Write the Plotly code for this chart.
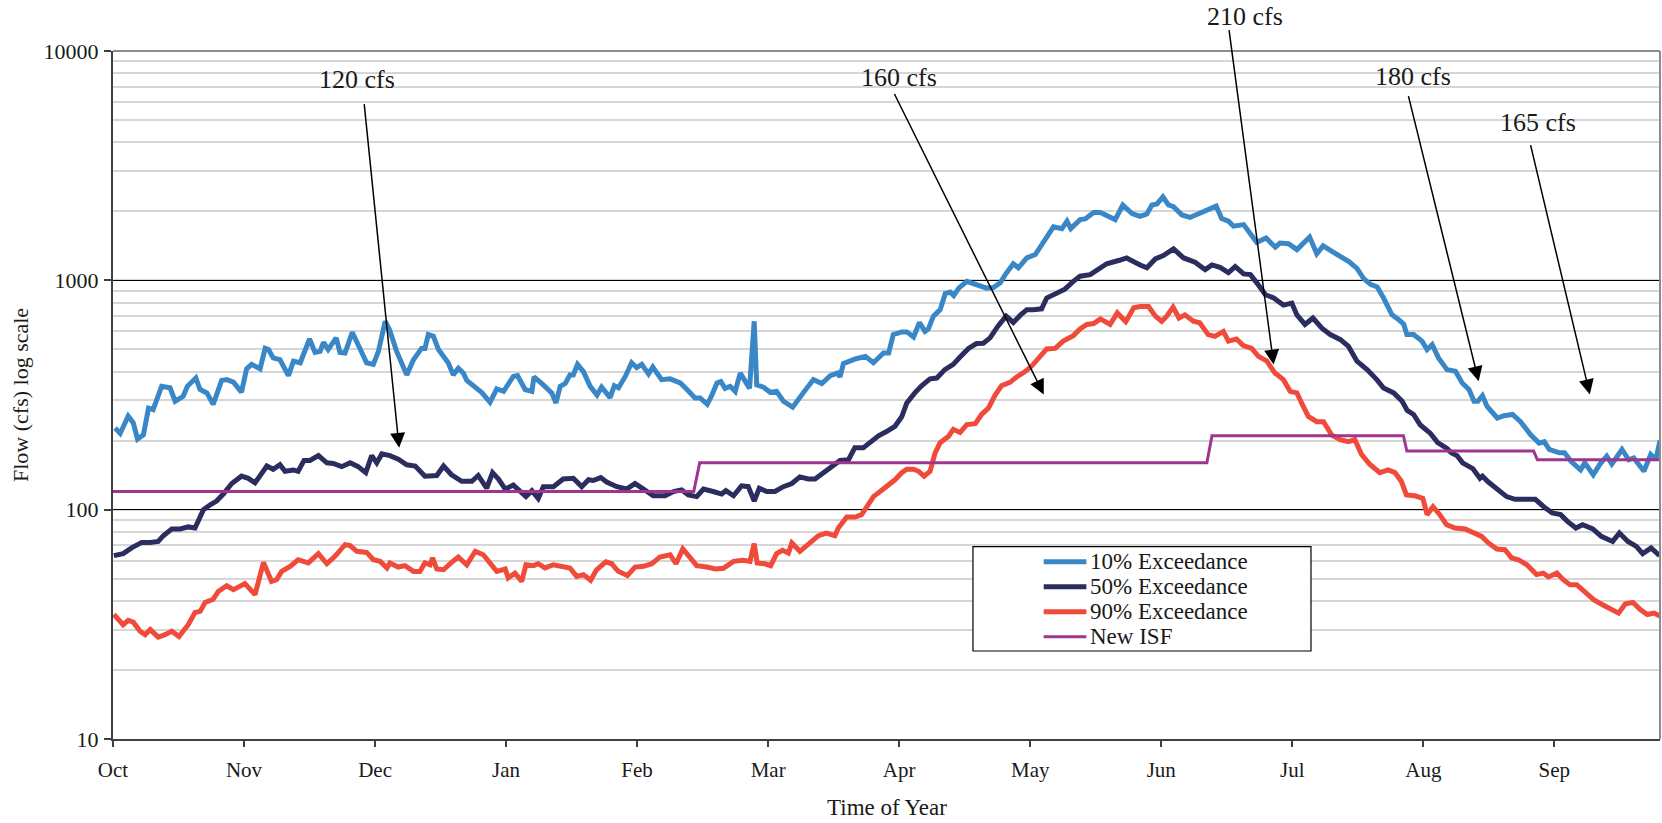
import numpy as np
import plotly.graph_objects as go

# ---------------- data (day of water year, flow in cfs) ----------------
months = ["Oct", "Nov", "Dec", "Jan", "Feb", "Mar", "Apr", "May", "Jun", "Jul", "Aug", "Sep"]
month_ticks = [0, 31, 62, 93, 124, 155, 186, 217, 248, 279, 310, 341]

d10 = [0.5, 1.7, 3.6, 4.8, 5.8, 7.2, 8.4, 9.5, 11.5, 13.5, 14.7, 16.6, 17.6, 19.6, 20.6, 22.2, 23.7, 25.7,
       26.9, 28.5, 30.4, 31.6, 32.8, 34.8, 36.0, 36.8, 37.9, 39.5, 41.5, 42.7, 44.3, 46.5, 47.8, 49.0,
       49.8, 50.9, 52.8, 53.7, 54.9, 56.6, 58.0, 60.0, 61.6, 62.8, 64.4, 65.4, 67.1, 69.5, 71.1, 73.0,
       73.8, 74.6, 75.8, 77.0, 79.3, 80.5, 81.7, 82.9, 83.7, 86.1, 87.2, 89.2, 90.8, 92.4, 94.7, 95.7,
       97.5, 99.1, 99.6, 101.8, 103.8, 104.8, 105.8, 107.0, 108.1, 108.9, 109.9, 111.3, 112.9, 114.5,
       115.6, 117.6, 118.6, 119.6, 121.2, 122.7, 123.9, 125.1, 126.7, 127.7, 129.8, 131.8, 134.2,
       135.8, 137.7, 138.9, 140.6, 141.7, 142.9, 143.8, 144.8, 146.0, 147.2, 148.4, 149.6, 150.6,
       151.7, 152.3, 153.9, 155.5, 157.0, 158.6, 160.8, 162.6, 164.1, 165.7, 167.7, 169.7, 171.4,
       172.0, 172.8, 175.6, 178.0, 179.9, 182.3, 183.5, 184.6, 186.6, 187.8, 189.4, 190.8, 192.1,
       192.9, 194.1, 195.7, 196.9, 198.1, 198.9, 200.1, 202.0, 204.4, 206.7, 208.3, 209.9, 211.1,
       213.0, 214.2, 216.2, 218.2, 220.1, 222.5, 224.5, 225.7, 226.6, 228.8, 230.0, 232.0, 233.6,
       235.1, 237.1, 238.9, 241.1, 243.0, 244.6, 245.8, 247.0, 248.4, 249.7, 250.9, 252.9, 254.8,
       256.8, 259.2, 261.0, 262.3, 263.9, 265.1, 267.5, 268.7, 270.6, 272.8, 275.0, 276.1, 278.1,
       280.1, 281.7, 283.1, 284.8, 286.3, 288.4, 290.4, 292.4, 294.3, 295.9, 297.5, 299.1, 300.6,
       302.6, 304.2, 305.4, 306.1, 307.7, 309.7, 310.9, 312.1, 313.6, 315.6, 317.6, 319.2, 320.8,
       322.0, 322.9, 324.0, 325.1, 327.5, 329.1, 331.1, 333.0, 335.4, 337.4, 338.6, 339.8, 342.2,
       343.4, 345.0, 347.2, 348.2, 350.2, 351.8, 353.4, 354.6, 357.0, 358.6, 359.8, 362.2, 363.8,
       365.0, 366.0]
q10 = [227, 215, 256, 239, 203, 212, 277, 273, 345, 340, 297, 312, 345, 375, 334, 323, 288, 366,
       369, 360, 325, 411, 430, 411, 505, 499, 459, 451, 384, 444, 437, 555, 485, 490,
       537, 499, 561, 485, 482, 594, 524, 437, 430, 490, 663, 610, 490, 387, 451, 505,
       505, 580, 570, 499, 437, 387, 414, 394, 366, 334, 325, 294, 336, 328, 381, 384,
       334, 328, 379, 350, 323, 292, 345, 355, 387, 387, 430, 400, 345, 316,
       342, 308, 347, 340, 381, 437, 416, 430, 391, 419, 369, 372, 357,
       334, 307, 307, 288, 316, 357, 362, 338, 345, 328, 394, 362, 338,
       663, 350, 342, 325, 328, 297, 280, 314, 338, 369, 355, 384, 394,
       379, 433, 454, 466, 437, 482, 482, 580, 596, 596, 566, 655, 599,
       614, 698, 745, 875, 888, 858, 925, 990, 960, 925, 930, 975, 1059,
       1181, 1134, 1252, 1296, 1454, 1712, 1680, 1811, 1680, 1840, 1853, 1975, 1975,
       1914, 1840, 2131, 1954, 1901, 1947, 2131, 2154, 2311, 2131, 2096, 1927, 1880,
       1954, 2034, 2107, 1861, 1811, 1722, 1750, 1634, 1464, 1529, 1395, 1454, 1444,
       1361, 1454, 1545, 1306, 1414, 1336, 1264, 1208, 1127, 1018, 960, 936, 837,
       707, 674, 642, 580, 580, 543, 499, 524, 459, 408, 401, 357, 334,
       297, 297, 314, 282, 251, 257, 260, 242, 212, 195, 198, 183, 177,
       177, 162, 149, 160, 142, 158, 171, 158, 183, 165, 168, 147, 174,
       165, 200]

d50 = [0.2, 2.4, 4.4, 6.8, 8.8, 10.7, 11.9, 13.9, 15.9, 17.8, 19.4, 21.4, 23.0, 24.5, 26.1, 28.1,
       30.4, 32.0, 33.6, 34.8, 36.4, 37.9, 39.5, 40.7, 42.7, 43.8, 45.2, 46.6, 48.6, 50.6, 52.1, 54.1,
       56.1, 58.0, 59.8, 61.2, 62.4, 63.6, 65.5, 67.5, 69.5, 71.5, 73.8, 76.6, 78.2, 80.1, 82.5, 84.9,
       86.4, 88.4, 89.8, 91.2, 92.8, 94.7, 95.9, 97.7, 99.1, 100.6, 101.8, 104.2, 106.5, 108.9, 110.9,
       112.5, 113.6, 115.4, 116.8, 119.2, 121.5, 123.5, 125.5, 127.8, 130.6, 132.6, 134.5, 136.1,
       138.1, 139.7, 142.0, 144.0, 145.0, 146.8, 148.7, 150.3, 151.7, 152.9, 154.7, 156.6, 158.6,
       160.6, 162.5, 164.5, 166.1, 168.0, 170.0, 172.0, 174.0, 175.5, 177.5, 179.5, 181.1, 183.0,
       185.0, 186.6, 187.8, 189.7, 191.3, 193.3, 194.9, 196.8, 198.8, 200.4, 202.4, 204.3, 205.9,
       207.5, 209.4, 211.3, 213.0, 214.6, 216.2, 217.7, 219.7, 220.9, 223.3, 225.2, 227.2, 228.8,
       231.2, 233.6, 235.1, 238.1, 239.8, 243.0, 244.6, 246.6, 248.5, 250.9, 253.3, 256.0, 258.4,
       260.0, 261.9, 263.9, 265.5, 267.5, 269.1, 270.6, 272.6, 274.6, 276.9, 278.9, 280.1, 282.0,
       283.9, 286.0, 288.0, 290.4, 292.3, 294.3, 296.7, 299.0, 300.6, 303.0, 305.0, 306.2, 307.7,
       309.3, 311.7, 313.4, 315.6, 316.6, 318.0, 319.3, 321.7, 323.4, 324.0, 325.4, 327.4, 329.7,
       331.7, 334.1, 336.5, 338.5, 340.5, 342.5, 344.1, 346.1, 347.7, 350.1, 352.1, 354.8, 356.4,
       358.4, 360.4, 361.9, 363.9, 365.9]
q50 = [63.0, 64.3, 68.1, 72.0, 72.0, 72.7, 77.0, 82.4, 82.4, 84.1, 83.2, 100, 105, 109, 117, 130,
       140, 137, 131, 140, 155, 150, 157, 147, 149, 147, 164, 164, 172, 160, 159, 154,
       160, 154, 145, 172, 160, 175, 172, 166, 157, 155, 140, 141, 155, 142, 133, 133,
       141, 124, 145, 136, 123, 128, 122, 114, 121, 112, 126, 126, 136, 137, 126,
       135, 134, 138, 132, 126, 123, 130, 123, 115, 115, 120, 122, 116,
       114, 123, 120, 117, 121, 115, 127, 126, 109, 124, 120, 120, 126,
       130, 139, 136, 136, 145, 154, 164, 165, 186, 186, 199, 210, 219,
       231, 254, 292, 323, 347, 372, 375, 408, 430, 463, 505, 530, 532,
       561, 633, 698, 655, 703, 745, 745, 751, 837, 875, 915, 990, 1042,
       1059, 1134, 1181, 1223, 1252, 1167, 1134, 1240, 1283, 1370, 1252, 1199, 1113,
       1167, 1140, 1080, 1148, 1067, 1059, 975, 867, 837, 780, 795, 707, 642,
       685, 619, 580, 551, 515, 444, 408, 369, 339, 323, 297, 271, 260,
       234, 215, 196, 185, 177, 172, 160, 151, 137, 140, 132, 124, 114,
       111, 111, 111, 103, 96.7, 95.1, 88.9, 83.2, 86.0, 82.4, 76.5, 72.7, 79.1,
       72.7, 69.2, 64.3, 68.1, 63.0]

d90 = [0.2, 2.4, 3.6, 4.8, 6.4, 7.6, 8.8, 10.7, 12.3, 13.9, 15.6, 17.8, 19.4, 20.6, 21.8, 23.7, 24.9,
       26.9, 28.5, 31.2, 33.6, 35.6, 37.5, 38.7, 39.9, 41.9, 43.8, 46.2, 48.6, 50.6, 52.5, 54.9, 56.1,
       57.7, 60.0, 61.6, 63.2, 64.8, 65.5, 67.5, 69.1, 71.1, 72.6, 73.8, 75.0, 75.6, 76.6, 78.2, 80.1,
       81.7, 83.7, 85.7, 87.6, 88.8, 90.8, 92.8, 93.5, 95.1, 96.7, 97.7, 99.5, 100.6, 102.2, 104.2,
       106.5, 108.1, 109.7, 111.3, 113.0, 114.4, 116.6, 118.0, 118.8, 119.6, 121.7, 123.5, 125.5,
       127.5, 129.4, 131.8, 133.2, 134.8, 136.4, 138.1, 140.5, 142.5, 144.4, 146.8, 149.1, 150.7,
       151.7, 152.4, 154.2, 155.6, 157.0, 158.4, 159.8, 160.6, 162.5, 164.9, 166.9, 168.8, 170.8,
       171.6, 173.6, 175.6, 177.1, 178.3, 179.9, 181.5, 183.0, 185.0, 186.6, 187.8, 189.4, 190.6,
       191.9, 193.3, 194.5, 195.7, 197.7, 198.8, 200.4, 202.0, 204.0, 205.5, 207.1, 208.7, 210.2,
       212.2, 213.8, 215.8, 217.4, 219.3, 220.9, 222.9, 224.8, 227.2, 228.8, 230.4, 232.0, 233.6,
       235.9, 237.6, 239.6, 241.5, 243.0, 245.0, 246.6, 248.1, 249.3, 250.8, 252.2, 253.6, 255.6,
       257.1, 259.1, 260.7, 262.7, 263.9, 265.8, 267.4, 269.4, 271.0, 273.0, 274.9, 276.9, 278.5,
       280.1, 281.2, 282.8, 284.8, 286.4, 288.3, 290.3, 292.3, 293.8, 295.4, 297.3, 299.7, 301.7,
       303.3, 304.8, 306.0, 308.0, 309.9, 310.9, 312.3, 313.9, 315.5, 317.5, 319.9, 321.8, 323.8,
       325.4, 327.4, 329.3, 330.9, 332.5, 334.5, 336.8, 338.4, 339.6, 341.6, 343.1, 344.7, 346.3,
       348.3, 350.3, 352.3, 354.2, 356.2, 357.8, 359.6, 361.4, 363.0, 364.6, 366.2]
q90 = [34.9, 31.5, 32.9, 32.3, 29.5, 28.5, 30.0, 27.8, 28.5, 29.5, 28.0, 31.5, 35.6, 36.0, 39.4, 40.7, 44.0,
       46.6, 44.8, 47.6, 42.6, 58.9, 48.7, 49.5, 53.8, 56.6, 60.5, 58.6, 64.3, 58.1, 62.6, 70.4, 69.7,
       65.8, 65.1, 60.5, 59.5, 55.7, 58.6, 56.2, 57.0, 53.8, 53.8, 58.6, 57.5, 61.6, 55.1, 54.7, 58.9,
       62.2, 57.5, 65.8, 63.6, 60.1, 53.8, 55.1, 50.4, 52.9, 48.7, 57.5, 57.0, 58.1, 55.7, 57.5,
       56.6, 55.7, 51.2, 52.1, 49.2, 54.7, 59.2, 58.1, 55.7, 53.8, 51.6, 56.2, 56.6,
       58.1, 62.2, 63.6, 58.1, 67.4, 62.2, 57.0, 56.2, 55.1, 55.5, 59.5, 60.1, 59.5,
       71.1, 58.6, 58.1, 57.0, 64.3, 66.5, 64.7, 71.6, 65.8, 71.6, 77.0, 79.1, 77.0,
       83.2, 92.9, 92.9, 95.1, 102.7, 114, 120, 126, 135, 145, 150, 150, 147,
       140, 147, 177, 196, 209, 224, 217, 235, 237, 260, 277, 316, 347,
       359, 379, 400, 424, 469, 502, 505, 543, 574, 614, 642, 648, 679,
       642, 721, 660, 760, 769, 769, 698, 663, 698, 764, 685, 707, 663,
       653, 580, 570, 599, 543, 555, 519, 505, 466, 444, 394, 369, 328,
       323, 292, 255, 242, 242, 212, 202, 198, 202, 174, 158, 145, 149,
       145, 133, 116, 115, 112, 95.1, 103, 95.1, 86.0, 83.2, 82.4, 79.1, 76.5,
       71.6, 67.4, 66.9, 61.6, 60.5, 57.5, 52.1, 52.9, 50.9, 52.9, 49.5, 47.1, 47.1,
       44.0, 40.5, 38.6, 37.2, 35.4, 38.9, 39.4, 36.6, 34.9, 35.4, 34.2]

d_isf = [0, 137.4, 138.8, 258.8, 260.0, 305.3, 306.1, 336.1, 337.0, 366]
q_isf = [120, 120, 160, 160, 210, 210, 180, 180, 165, 165]

# annotation labels: text position, arrow tail, arrow head (day, cfs)
ann_text = ["120 cfs", "160 cfs", "210 cfs", "180 cfs", "165 cfs"]
ann_text_day = [57.7, 186.0, 267.9, 307.6, 337.1]
ann_text_q = [7499, 7656, 14125, 7727, 4875]
ann_tail_day = [59.4, 184.7, 264.0, 306.4, 335.3]
ann_tail_q = [5957, 6592, 12531, 6457, 3945]
ann_head_day = [67.7, 220.2, 274.6, 323.1, 349.4]
ann_head_q = [186, 318, 429, 363, 318]

series_names = ["10% Exceedance", "50% Exceedance", "90% Exceedance", "New ISF"]
series_colors = ["#3a87c8", "#2b2d5e", "#f04a3a", "#a0358f"]
series_widths = [5, 5, 5, 3]

FONT = "Liberation Serif, Times New Roman, serif"
TXT = "#1a1a1a"
Y_RANGE = [1, 4]  # log10 of 10 .. 10000

fig = go.Figure()
for (dx, qy), nm, col, w in zip([(d10, q10), (d50, q50), (d90, q90), (d_isf, q_isf)],
                                series_names, series_colors, series_widths):
    fig.add_trace(go.Scatter(x=dx, y=qy, mode="lines", name=nm, showlegend=False,
                             line=dict(color=col, width=w)))


def to_paper_y(q):
    return (np.log10(q) - Y_RANGE[0]) / (Y_RANGE[1] - Y_RANGE[0])


annotations = []
for t, tx, tq, ax_, aq, hx, hq in zip(ann_text, ann_text_day, ann_text_q, ann_tail_day,
                                       ann_tail_q, ann_head_day, ann_head_q):
    annotations.append(dict(x=tx, y=to_paper_y(tq), xref="x", yref="paper", text=t, showarrow=False,
                            font=dict(family=FONT, size=26, color=TXT),
                            xanchor="center", yanchor="middle"))
    annotations.append(dict(x=hx, y=np.log10(hq), xref="x", yref="y", text="",
                            ax=ax_, ay=np.log10(aq), axref="x", ayref="y",
                            showarrow=True, arrowhead=2, arrowsize=2.0, arrowwidth=1.5,
                            arrowcolor="#000000", standoff=0, startstandoff=0))

# axis titles
annotations.append(dict(x=0, y=0.5, xref="paper", yref="paper", xshift=-93,
                        text="Flow (cfs) log scale", textangle=-90, showarrow=False,
                        font=dict(family=FONT, size=22, color=TXT),
                        xanchor="center", yanchor="middle"))
annotations.append(dict(x=0.5, y=0, xref="paper", yref="paper", yshift=-68,
                        text="Time of Year", showarrow=False,
                        font=dict(family=FONT, size=23, color=TXT),
                        xanchor="center", yanchor="middle"))

# legend (drawn inside a framed box)
leg_y = [0.2577, 0.2214, 0.1850, 0.1487]
shapes = [
    dict(type="rect", xref="paper", yref="paper", x0=0.5559, x1=0.7744, y0=0.1279, y1=0.2795,
         line=dict(color="#000000", width=1.2), fillcolor="white", layer="above"),
    dict(type="line", xref="paper", yref="paper", x0=0, x1=1, y0=1, y1=1,
         line=dict(color="#8c8c8c", width=2), layer="above"),
    dict(type="line", xref="paper", yref="paper", x0=1, x1=1, y0=0, y1=1,
         line=dict(color="#8c8c8c", width=2), layer="above"),
]
for ly, nm, col, w in zip(leg_y, series_names, series_colors, series_widths):
    shapes.append(dict(type="line", xref="paper", yref="paper", x0=0.6016, x1=0.6292, y0=ly, y1=ly,
                       line=dict(color=col, width=w), layer="above"))
    annotations.append(dict(x=0.6300, y=ly, xref="paper", yref="paper", text=nm, showarrow=False,
                            font=dict(family=FONT, size=23, color=TXT),
                            xanchor="left", yanchor="middle"))

fig.update_layout(
    width=1662, height=823,
    margin=dict(l=113, r=2, t=51, b=84),
    paper_bgcolor="white", plot_bgcolor="white",
    font=dict(family=FONT, size=21, color=TXT),
    showlegend=False,
    annotations=annotations,
    shapes=shapes,
)
fig.update_xaxes(range=[0, 366], tickvals=month_ticks, ticktext=months,
                 showgrid=False, zeroline=False, showline=True, linecolor="#404040", linewidth=2,
                 ticks="outside", ticklen=6, tickcolor="#404040", tickwidth=1.5,
                 tickfont=dict(family=FONT, size=21, color=TXT), ticklabelstandoff=5)
fig.update_yaxes(type="log", range=Y_RANGE, tickvals=[10, 100, 1000, 10000],
                 ticktext=["10", "100", "1000", "10000"],
                 showgrid=True, gridcolor="#000000", gridwidth=1,
                 minor=dict(dtick="D1", showgrid=True, gridcolor="#d6d6d6", gridwidth=1.5, ticks=""),
                 zeroline=False, showline=True, linecolor="#404040", linewidth=2,
                 ticks="outside", ticklen=7, tickcolor="#404040", tickwidth=1.5,
                 tickfont=dict(family=FONT, size=22, color=TXT), ticklabelstandoff=1)

fig.write_html("out.html", config={"displayModeBar": False},
               post_script="document.body.style.margin='0px';")
